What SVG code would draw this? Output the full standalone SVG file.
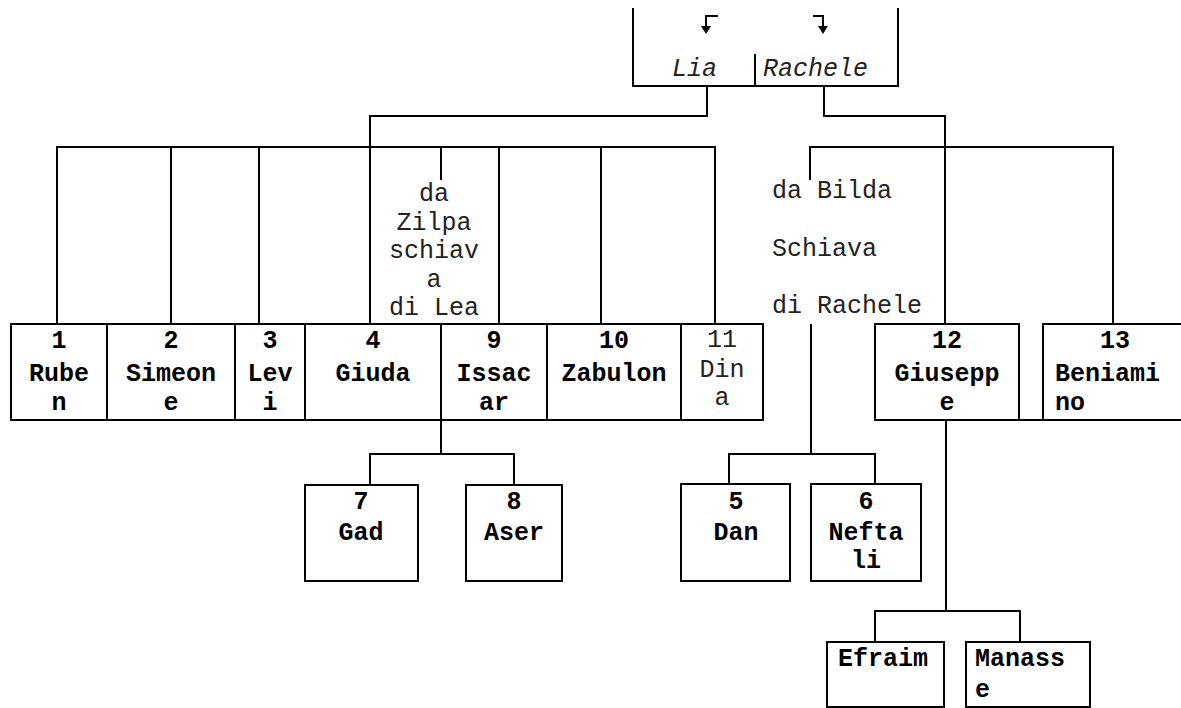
<svg xmlns="http://www.w3.org/2000/svg" width="1181" height="708" viewBox="0 0 1181 708">
<style>
.ln{fill:none;stroke:#000;stroke-width:2}
.box{fill:#fff;stroke:#000;stroke-width:2}
.b{font-family:"Liberation Mono","Courier New",monospace;font-weight:bold;font-size:25px;fill:#000}
.r{font-family:"Liberation Mono","Courier New",monospace;font-size:25px;fill:#222}
.i{font-family:"Liberation Mono","Courier New",monospace;font-style:italic;font-size:25px;fill:#222}
.c{text-anchor:middle}
.ah{fill:#000;stroke:none}
</style>
<rect width="1181" height="708" fill="#fff"/>
<g id="connectors">
<path class="ln" d="M633,8 V86 H898 V8"/>
<path class="ln" d="M755,54 V86"/>
<path class="ln" d="M707,86 V116 H370 V324"/>
<path class="ln" d="M57,324 V147 H715 V324"/>
<path class="ln" d="M171,147 V324 M259,147 V324 M499,147 V324 M601,147 V324 M441,147 V180"/>
<path class="ln" d="M824,86 V116 H945 V324"/>
<path class="ln" d="M810,180 V147 H1113 V324"/>
<path class="ln" d="M811,324 V454 M729,484 V454 H875 V484"/>
<path class="ln" d="M441,420 V454 M370,485 V454 H514 V485"/>
<path class="ln" d="M946,420 V611 M875,642 V611 H1020 V642"/>
</g>
<g id="parents">
<path class="ln" d="M718,16 H706 V27"/>
<polygon class="ah" points="701,26 711,26 706,34"/>
<path class="ln" d="M813,16 H823 V27"/>
<polygon class="ah" points="818,26 828,26 823,34"/>
<text class="i" x="672" y="76">Lia</text>
<text class="i" x="763" y="76">Rachele</text>
</g>
<g id="label-zilpa">
<text class="r c" x="434" y="201">da</text>
<text class="r c" x="434" y="230">Zilpa</text>
<text class="r c" x="434" y="258">schiav</text>
<text class="r c" x="434" y="287">a</text>
<text class="r c" x="434" y="315">di Lea</text>
</g>
<g id="label-bilda">
<text class="r" x="772" y="198">da Bilda</text>
<text class="r" x="772" y="256">Schiava</text>
<text class="r" x="772" y="313">di Rachele</text>
</g>
<g id="n1"><rect class="box" x="11" y="324" width="96" height="96"/>
<text class="b c" x="59" y="348">1</text><text class="b c" x="59" y="381">Rube</text><text class="b c" x="59" y="410">n</text></g>
<g id="n2"><rect class="box" x="107" y="324" width="128" height="96"/>
<text class="b c" x="171" y="348">2</text><text class="b c" x="171" y="381">Simeon</text><text class="b c" x="171" y="410">e</text></g>
<g id="n3"><rect class="box" x="235" y="324" width="70" height="96"/>
<text class="b c" x="270" y="348">3</text><text class="b c" x="270" y="381">Lev</text><text class="b c" x="270" y="410">i</text></g>
<g id="n4"><rect class="box" x="305" y="324" width="136" height="96"/>
<text class="b c" x="373" y="348">4</text><text class="b c" x="373" y="381">Giuda</text></g>
<g id="n9"><rect class="box" x="441" y="324" width="106" height="96"/>
<text class="b c" x="494" y="348">9</text><text class="b c" x="494" y="381">Issac</text><text class="b c" x="494" y="410">ar</text></g>
<g id="n10"><rect class="box" x="547" y="324" width="134" height="96"/>
<text class="b c" x="614" y="348">10</text><text class="b c" x="614" y="381">Zabulon</text></g>
<g id="n11"><rect class="box" x="681" y="324" width="82" height="96"/>
<text class="r c" x="722" y="347">11</text><text class="r c" x="722" y="377">Din</text><text class="r c" x="722" y="405">a</text></g>
<g id="n12"><rect class="box" x="875" y="324" width="144" height="96"/>
<text class="b c" x="947" y="348">12</text><text class="b c" x="947" y="381">Giusepp</text><text class="b c" x="947" y="410">e</text></g>
<g id="n13"><path class="ln" d="M1019,420 H1043"/><rect class="box" x="1043" y="324" width="150" height="96"/>
<text class="b c" x="1115" y="348">13</text><text class="b" x="1055" y="381">Beniami</text><text class="b" x="1055" y="410">no</text></g>
<g id="n7"><rect class="box" x="305" y="485" width="113" height="96"/>
<text class="b c" x="361" y="509">7</text><text class="b c" x="361" y="540">Gad</text></g>
<g id="n8"><rect class="box" x="466" y="485" width="96" height="96"/>
<text class="b c" x="514" y="509">8</text><text class="b c" x="514" y="540">Aser</text></g>
<g id="n5"><rect class="box" x="681" y="484" width="109" height="97"/>
<text class="b c" x="736" y="509">5</text><text class="b c" x="736" y="540">Dan</text></g>
<g id="n6"><rect class="box" x="811" y="484" width="110" height="97"/>
<text class="b c" x="866" y="509">6</text><text class="b c" x="866" y="540">Nefta</text><text class="b c" x="866" y="568">li</text></g>
<g id="efraim"><rect class="box" x="827" y="642" width="117" height="65"/>
<text class="b" x="838" y="666">Efraim</text></g>
<g id="manasse"><rect class="box" x="966" y="642" width="124" height="65"/>
<text class="b" x="975" y="666">Manass</text><text class="b" x="975" y="697">e</text></g>
</svg>
